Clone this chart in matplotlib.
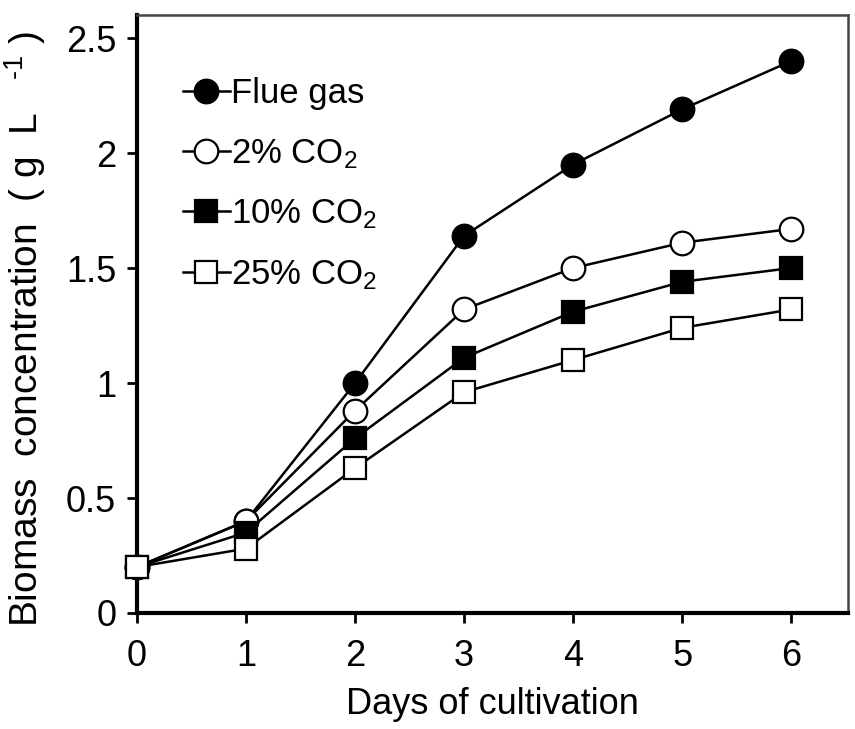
import matplotlib.pyplot as plt

plt.rcParams['font.family'] = ['Liberation Sans', 'DejaVu Sans']
plt.rcParams['mathtext.fontset'] = 'custom'
plt.rcParams['mathtext.rm'] = 'Liberation Sans'
plt.rcParams['mathtext.it'] = 'Liberation Sans'

days = [0, 1, 2, 3, 4, 5, 6]
flue_gas = [0.20, 0.40, 1.00, 1.64, 1.95, 2.19, 2.40]
co2_2 = [0.20, 0.40, 0.88, 1.32, 1.50, 1.61, 1.67]
co2_10 = [0.20, 0.35, 0.76, 1.11, 1.31, 1.44, 1.50]
co2_25 = [0.20, 0.28, 0.63, 0.96, 1.10, 1.24, 1.32]

series = [
    (flue_gas, 'Flue gas', 'o', 'black', 17),
    (co2_2, '2% CO$_2$', 'o', 'white', 17),
    (co2_10, '10% CO$_2$', 's', 'black', 16),
    (co2_25, '25% CO$_2$', 's', 'white', 16),
]

fig = plt.figure(figsize=(8.55, 7.29), dpi=100)
ax = fig.add_axes([137 / 855, 1 - 613 / 729, (848 - 137) / 855, (613 - 15) / 729])

for vals, name, mk, fc, ms in series:
    ax.plot(days, vals, color='black', lw=1.8, marker=mk, markersize=ms,
            markerfacecolor=fc, markeredgecolor='black', markeredgewidth=1.6,
            label=name, clip_on=False, zorder=3)

ax.set_xlim(0, 6.52)
ax.set_ylim(0, 2.6)
ax.set_xticks(days)
ax.set_yticks([0, 0.5, 1, 1.5, 2, 2.5])
ax.set_yticklabels(['0', '0.5', '1', '1.5', '2', '2.5'])
ax.tick_params(axis='both', direction='out', length=7, width=2, labelsize=26)
ax.tick_params(axis='x', pad=12)
ax.tick_params(axis='y', pad=8)

ax.spines['left'].set_linewidth(3)
ax.spines['bottom'].set_linewidth(3)
ax.spines['top'].set_linewidth(1.8)
ax.spines['right'].set_linewidth(1.8)
ax.spines['top'].set_color('#444444')
ax.spines['right'].set_color('#444444')

ax.set_xlabel('Days of cultivation', fontsize=26, labelpad=9)
ax.set_ylabel('Biomass  concentration  ( g  L   $^{\u2010 1}$ )', fontsize=28)
ax.yaxis.set_label_coords(-0.125, 0.475)

leg = ax.legend(loc='upper left', bbox_to_anchor=(0.045, 0.92), frameon=False,
                fontsize=25, handlelength=1.35, handletextpad=0.05,
                labelspacing=0.78, borderaxespad=0)

fig.savefig('out.png', dpi=100)
